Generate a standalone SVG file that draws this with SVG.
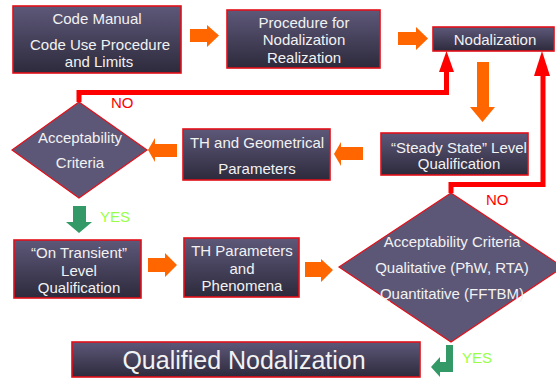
<svg xmlns="http://www.w3.org/2000/svg" width="556" height="379" viewBox="0 0 556 379">
  <defs>
    <linearGradient id="boxFill" x1="0" y1="0" x2="0" y2="1">
      <stop offset="0" stop-color="#5e5879"/>
      <stop offset="1" stop-color="#2d2a3c"/>
    </linearGradient>
    <style>
      .box { fill: url(#boxFill); stroke: #e3101a; stroke-width: 1.6; }
      .dia { fill: #5d5777; stroke: #e3101a; stroke-width: 1.2; }
      .t { font-family: "Liberation Sans", Arial, sans-serif; font-size: 15px; fill: #f2f2f2; text-anchor: middle; }
      .big { font-size: 25px; }
      .orange { fill: #ff6600; }
      .green { fill: #339966; }
      .red { fill: #ff0000; }
      .redline { fill: none; stroke: #ff0000; stroke-width: 5; stroke-linejoin: miter; }
      .no { font-family: "Liberation Sans", Arial, sans-serif; font-size: 15px; fill: #ff0000; }
      .yes { font-family: "Liberation Sans", Arial, sans-serif; font-size: 15px; fill: #99ff44; }
    </style>
  </defs>

  <rect width="556" height="379" fill="#ffffff"/>

  <!-- nodes -->
  <g id="code-manual">
    <rect class="box" x="13" y="6" width="168" height="67"/>
    <text class="t" x="97" y="24">Code Manual</text>
    <text class="t" x="100" y="50">Code Use Procedure</text>
    <text class="t" x="99" y="67">and Limits</text>
  </g>

  <g id="procedure">
    <rect class="box" x="227" y="10" width="153" height="58"/>
    <text class="t" x="304" y="28">Procedure for</text>
    <text class="t" x="304" y="45">Nodalization</text>
    <text class="t" x="304" y="63">Realization</text>
  </g>

  <g id="nodalization">
    <rect class="box" x="433" y="27" width="121" height="24"/>
    <text class="t" x="495" y="45">Nodalization</text>
  </g>

  <g id="steady-state">
    <rect class="box" x="381" y="133" width="147" height="42"/>
    <text class="t" x="459" y="153">“Steady State” Level</text>
    <text class="t" x="459" y="169">Qualification</text>
  </g>

  <g id="th-geometrical">
    <rect class="box" x="183" y="129" width="147" height="51"/>
    <text class="t" x="257" y="148">TH and Geometrical</text>
    <text class="t" x="257" y="174">Parameters</text>
  </g>

  <g id="acceptability">
    <polygon class="dia" points="79,102 147,150 79,198 12,150"/>
    <text class="t" x="80" y="143">Acceptability</text>
    <text class="t" x="80" y="168">Criteria</text>
  </g>

  <g id="on-transient">
    <rect class="box" x="14" y="240" width="127" height="58"/>
    <text class="t" x="79" y="258">“On Transient”</text>
    <text class="t" x="79" y="276">Level</text>
    <text class="t" x="79" y="293">Qualification</text>
  </g>

  <g id="th-parameters">
    <rect class="box" x="184" y="238" width="115" height="59"/>
    <text class="t" x="242" y="256">TH Parameters</text>
    <text class="t" x="242" y="274">and</text>
    <text class="t" x="242" y="291">Phenomena</text>
  </g>

  <g id="acceptability-criteria">
    <polygon class="dia" points="451,193 563,267 451,342 339,267"/>
    <text class="t" x="452" y="247">Acceptability Criteria</text>
    <text class="t" x="452" y="273">Qualitative (PħW, RTA)</text>
    <text class="t" x="452" y="299">Quantitative (FFTBM)</text>
  </g>

  <g id="qualified-nodalization">
    <rect class="box" x="72" y="342" width="348" height="35"/>
    <text class="t big" x="244" y="369">Qualified Nodalization</text>
  </g>

  <!-- connectors -->
  <g id="connectors">
    <!-- flow arrows -->
    <polygon class="orange" points="190,29 207,29 207,25 219,35.5 207,47 207,42 190,42"/>
    <polygon class="orange" points="398,32 416,32 416,27 428,38.5 416,50 416,45 398,45"/>
    <polygon class="orange" points="477,62 489,62 489,107 495,107 482.5,122 470,107 477,107"/>
    <polygon class="orange" points="363,147 341,147 341,142 334,154 341,166 341,160 363,160"/>
    <polygon class="orange" points="177,144 155,144 155,138 148,150 155,162 155,157 177,157"/>
    <polygon class="orange" points="148,258 165,258 165,253 177,265 165,277 165,272 148,272"/>
    <polygon class="orange" points="305,262 321,262 321,259 333,270 321,282 321,277 305,277"/>

    <!-- NO loops back to Nodalization -->
    <polyline class="redline" points="79,102 79,92.5 446.5,92.5 446.5,70"/>
    <polygon class="red" points="446.5,51 454,72 439,72"/>
    <polyline class="redline" points="451,193 451,184.5 543,184.5 543,74"/>
    <polygon class="red" points="542,51 550,76 534,76"/>
    <text class="no" x="111" y="108">NO</text>
    <text class="no" x="486" y="205">NO</text>

    <!-- YES exits -->
    <polygon class="green" points="73,206 86,206 86,222 92,222 79,233 66,222 73,222"/>
    <polygon class="green" points="446,345 453,345 453,372 440,372 440,377 431,367 440,357 440,362 446,362"/>
    <text class="yes" x="100" y="222">YES</text>
    <text class="yes" x="462" y="363">YES</text>
  </g>
</svg>
